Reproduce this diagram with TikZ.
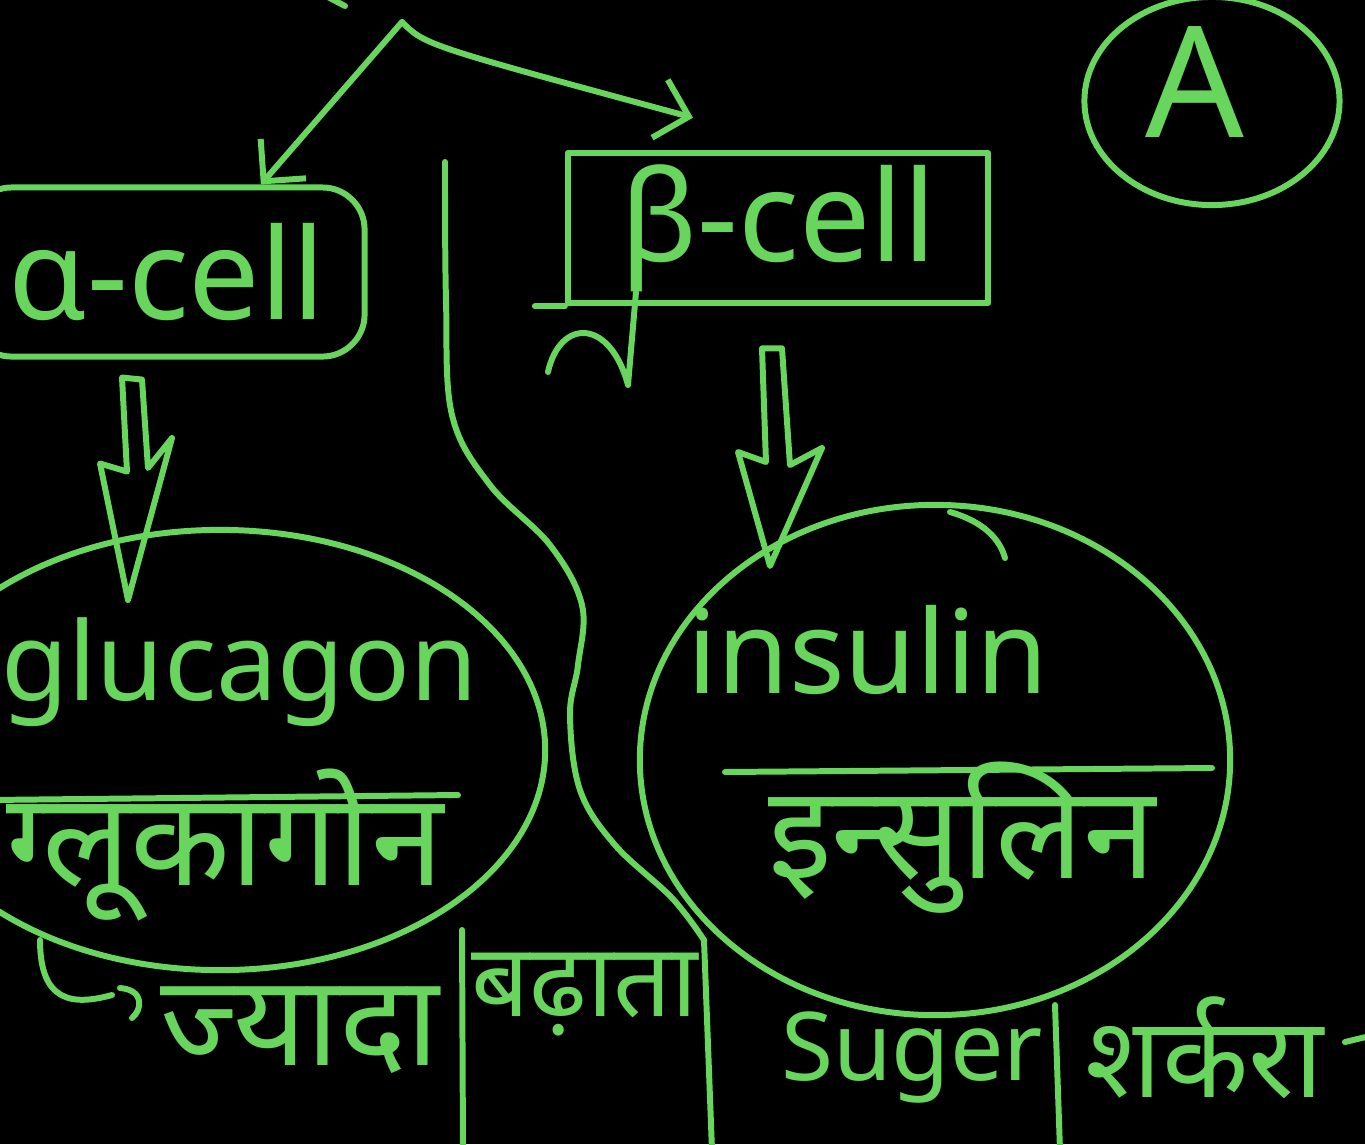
\documentclass[tikz,border=0pt]{standalone}
\usepackage{fontspec}
\setmainfont{Noto Sans}
\newfontfamily\deva[Script=Devanagari]{Noto Sans}
\usetikzlibrary{shapes.geometric,arrows.meta,positioning,calc}
\definecolor{chalkgreen}{RGB}{104,214,92}

\begin{document}
\begin{tikzpicture}[x=0.01cm, y=-0.01cm,
  chalk/.style={draw=chalkgreen, line width=1.7pt, line cap=round, line join=round},
  word/.style={text=chalkgreen, inner sep=0pt},
  cellbox/.style={chalk, rectangle, text=chalkgreen, font=\fontsize{36}{40}\selectfont},
  blob/.style={chalk, ellipse, inner sep=0pt},
  barb/.style={chalk, -{Straight Barb[length=3mm,width=6mm]}},
  hindi/.style={word, font=\deva\fontsize{32}{36}\selectfont}
]
\fill[black] (0,0) rectangle (1365,1144);
\useasboundingbox (0,0) rectangle (1365,1144);
\clip (0,0) rectangle (1365,1144);

% cells
\node[cellbox, rounded corners=12pt, minimum width=3.95cm, minimum height=1.69cm] (acell) at (167,272) {α-cell};
\node[cellbox, minimum width=4.2cm, minimum height=1.25cm] (bcell) at (778,228) {β-cell};
\draw[chalk] (bcell.south west) -- ++(-30,0);
\draw[chalk] (548,372) .. controls (560,318) and (610,318) .. (628,385) -- (636,292);

% fork on top
\coordinate (fork) at (402,22);
\draw[chalk] (326,-4) -- (345,6);
\draw[barb] (fork) -- (acell.43);
\draw[barb] (fork) .. controls (425,45) .. ($(bcell.north)+(-85,-32)$);

% hormones
\node[blob, minimum width=6.5cm, minimum height=4.4cm] (glublob) at (220,750) {};
\node[word, font=\fontsize{31}{34}\selectfont] (glu) at (240,672) {glucagon};
\draw[chalk] (-10,800) -- (458,795);
\node[hindi, font=\deva\fontsize{37}{40}\selectfont] (gluhi) at (225,845) {ग्लूकागोन};

\node[blob, minimum width=5.9cm, minimum height=5.1cm] (insblob) at (935,760) {};
\node[word, font=\fontsize{33}{36}\selectfont] (ins) at (868,650) {insulin};
\draw[chalk] (725,772) -- (1212,768);
\node[hindi, font=\deva\fontsize{37}{40}\selectfont] (inshi) at (962,838) {इन्सुलिन};
\draw[chalk] (950,512) .. controls (985,522) and (1000,540) .. (1005,558);

% hollow arrows
\coordinate (gtip) at (128,600);
\draw[chalk] ($(acell.south)+(-45,18)$) -- ++(5,94) -- ++(-27,-8) -- (gtip)
  -- ++(44,-162) -- ++(-24,30) -- ($(acell.south)+(-25,20)$) -- cycle;
\coordinate (itip) at (770,566);
\draw[chalk] ($(bcell.south)+(-16,42)$) -- (766,462) -- (738,452) -- (itip)
  -- (822,448) -- (790,465) -- ($(bcell.south)+(4,42)$) -- cycle;

% divider
\draw[chalk] plot[smooth, tension=0.6] coordinates {(445,162) (446,300) (452,415)
  (490,485) (550,545) (582,605) (578,665) (570,715) (580,790) (615,845) (672,898) (704,940)}
  -- (712,1150);

% bottom row
\draw[chalk] (40,940) .. controls (40,1002) and (72,1006) .. (112,995);
\draw[chalk] (120,988) .. controls (145,990) and (142,1010) .. (132,1018);
\node[hindi, font=\deva\fontsize{36}{40}\selectfont] (jyada) at (300,1030) {ज्यादा};
\draw[chalk] (462,930) -- (463,1150);
\node[hindi, font=\deva\fontsize{29}{32}\selectfont] (badhata) at (585,995) {बढ़ाता};
\node[word, font=\fontsize{27}{30}\selectfont] (sugar) at (912,1058) {Suger};
\draw[chalk] (1055,1005) -- (1060,1150);
\node[hindi] (sharkara) at (1205,1048) {शर्करा};
\draw[chalk] (1345,1042) -- (1370,1036);

% grade
\node[blob, minimum width=2.55cm, minimum height=2.08cm] (grade) at (1212,101) {};
\node[word, font=\fontsize{44}{48}\selectfont] (gradeA) at (1195,82) {A};
\end{tikzpicture}
\end{document}
